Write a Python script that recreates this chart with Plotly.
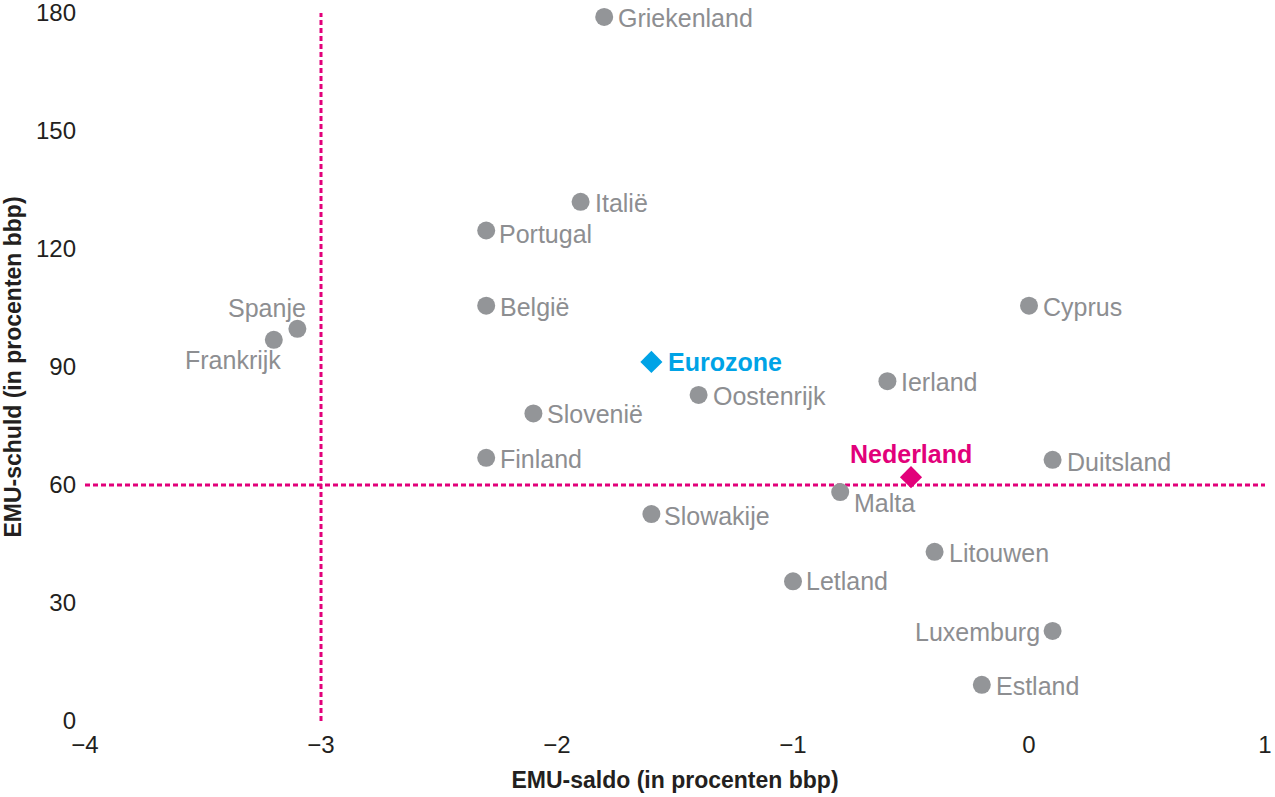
import plotly.graph_objects as go

# ---- data ----
countries = ["Griekenland", "Italië", "Portugal", "België", "Spanje", "Frankrijk",
             "Oostenrijk", "Slovenië", "Finland", "Slowakije", "Cyprus", "Ierland",
             "Malta", "Duitsland", "Litouwen", "Letland", "Luxemburg", "Estland"]
saldo = [-1.8, -1.9, -2.3, -2.3, -3.1, -3.2,
         -1.4, -2.1, -2.3, -1.6, 0.0, -0.6,
         -0.8, 0.1, -0.4, -1.0, 0.1, -0.2]
schuld = [179.0, 132.0, 124.7, 105.6, 99.7, 96.9,
          82.9, 78.2, 66.9, 52.6, 105.6, 86.4,
          58.2, 66.4, 43.0, 35.5, 22.9, 9.2]

eurozone_saldo = [-1.6]
eurozone_schuld = [91.3]
nederland_saldo = [-0.5]
nederland_schuld = [62.0]

x_ticks = [-4, -3, -2, -1, 0, 1]
y_ticks = [0, 30, 60, 90, 120, 150, 180]
ref_saldo = -3
ref_schuld = 60

# ---- styles ----
GRAY = "#939598"
GRAY_TXT = "#8d8e91"
PINK = "#e2007a"
BLUE = "#00a3e6"
DARK = "#231f20"
FONT = "Liberation Sans, Arial, sans-serif"
LABEL_SIZE = 25
TICK_SIZE = 24
TITLE_SIZE = 23

# label placement: (xanchor, xshift, yshift)
default_place = ("left", 12, -1)
place = {
    "Spanje": ("right", 11, 21),
    "Frankrijk": ("right", 9, -20),
    "Malta": ("left", 12, -11),
    "Luxemburg": ("right", -11, -1),
    "Portugal": ("left", 11, -3),
    "Slowakije": ("left", 11, -2),
    "Duitsland": ("left", 12, -2),
    "Letland": ("left", 11, 0),
}

fig = go.Figure()

fig.add_trace(go.Scatter(
    x=saldo, y=schuld, mode="markers",
    marker=dict(symbol="circle", size=18, color=GRAY),
    hovertext=countries, showlegend=False, cliponaxis=False))

fig.add_trace(go.Scatter(
    x=eurozone_saldo, y=eurozone_schuld, mode="markers",
    marker=dict(symbol="diamond", size=17, color=BLUE),
    showlegend=False, cliponaxis=False))

fig.add_trace(go.Scatter(
    x=nederland_saldo, y=nederland_schuld, mode="markers",
    marker=dict(symbol="diamond", size=17, color=PINK),
    showlegend=False, cliponaxis=False))

annotations = []
for name, xv, yv in zip(countries, saldo, schuld):
    xa, xs, ys = place.get(name, default_place)
    annotations.append(dict(
        x=xv, y=yv, xref="x", yref="y", text=name, showarrow=False,
        xanchor=xa, yanchor="middle", xshift=xs, yshift=ys,
        font=dict(family=FONT, size=LABEL_SIZE, color=GRAY_TXT)))

annotations.append(dict(
    x=eurozone_saldo[0], y=eurozone_schuld[0], xref="x", yref="y",
    text="<b>Eurozone</b>", showarrow=False, xanchor="left", yanchor="middle",
    xshift=15, yshift=0, font=dict(family=FONT, size=LABEL_SIZE, color=BLUE)))

annotations.append(dict(
    x=nederland_saldo[0], y=nederland_schuld[0], xref="x", yref="y",
    text="<b>Nederland</b>", showarrow=False, xanchor="center", yanchor="middle",
    xshift=0, yshift=23, font=dict(family=FONT, size=LABEL_SIZE, color=PINK)))

shapes = [
    dict(type="line", xref="x", yref="y", x0=ref_saldo, x1=ref_saldo,
         y0=min(y_ticks), y1=max(y_ticks),
         line=dict(color=PINK, width=3, dash="5px,3px"), layer="below"),
    dict(type="line", xref="x", yref="y", x0=min(x_ticks), x1=max(x_ticks),
         y0=ref_schuld, y1=ref_schuld,
         line=dict(color=PINK, width=3, dash="5px,3px"), layer="below"),
]

fig.update_layout(
    width=1275, height=797,
    margin=dict(l=85, r=10, t=13, b=76, autoexpand=False),
    paper_bgcolor="white", plot_bgcolor="white",
    font=dict(family=FONT, size=TICK_SIZE, color=DARK),
    annotations=annotations, shapes=shapes,
    xaxis=dict(
        range=[min(x_ticks), max(x_ticks)], tickvals=x_ticks,
        showgrid=False, zeroline=False, showline=False, ticks="",
        ticklabelstandoff=7, automargin=False, ticklabeloverflow="allow",
        tickfont=dict(family=FONT, size=TICK_SIZE, color=DARK),
        title=dict(text="<b>EMU-saldo (in procenten bbp)</b>", standoff=14,
                   font=dict(family=FONT, size=TITLE_SIZE, color=DARK))),
    yaxis=dict(
        range=[min(y_ticks), max(y_ticks)], tickvals=y_ticks,
        showgrid=False, zeroline=False, showline=False, ticks="",
        ticklabelstandoff=8, automargin=False, ticklabeloverflow="allow",
        tickfont=dict(family=FONT, size=TICK_SIZE, color=DARK),
        title=dict(text="<b>EMU-schuld (in procenten bbp)</b>", standoff=10,
                   font=dict(family=FONT, size=TITLE_SIZE, color=DARK))),
)

fig.write_html("out.html", config={"displayModeBar": False},
               post_script="document.body.style.margin='0';")
